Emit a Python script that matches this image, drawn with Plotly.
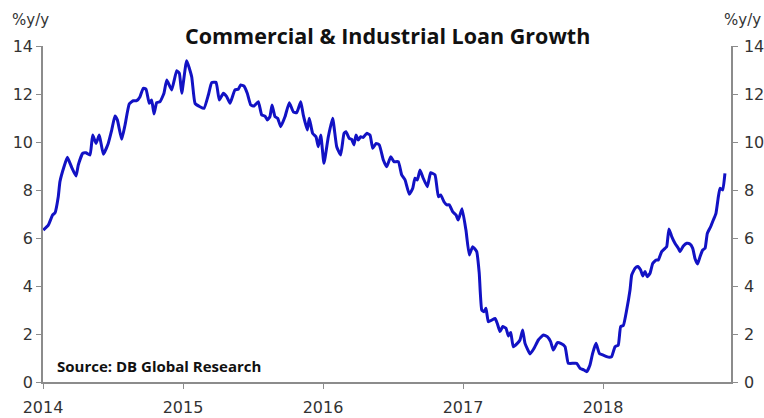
import plotly.graph_objects as go

# Weekly C&I loan growth, % y/y, x as decimal years
years = [
    2014.002, 2014.038, 2014.069, 2014.086, 2014.109, 2014.121, 2014.150, 2014.174, 2014.205, 2014.236,
    2014.252, 2014.284, 2014.307, 2014.336, 2014.355, 2014.379, 2014.402, 2014.431, 2014.466, 2014.491,
    2014.514, 2014.531, 2014.562, 2014.586, 2014.616, 2014.645, 2014.669, 2014.693, 2014.716, 2014.736,
    2014.759, 2014.776, 2014.793, 2014.812, 2014.836, 2014.864, 2014.884, 2014.919, 2014.955, 2014.974,
    2014.991, 2015.026, 2015.062, 2015.086, 2015.121, 2015.150, 2015.181, 2015.205, 2015.236, 2015.259,
    2015.288, 2015.312, 2015.336, 2015.371, 2015.395, 2015.412, 2015.436, 2015.459, 2015.484, 2015.507,
    2015.538, 2015.562, 2015.586, 2015.602, 2015.621, 2015.636, 2015.657, 2015.676, 2015.698, 2015.729,
    2015.759, 2015.788, 2015.812, 2015.841, 2015.859, 2015.888, 2015.902, 2015.926, 2015.950, 2015.966,
    2015.984, 2016.007, 2016.038, 2016.069, 2016.098, 2016.126, 2016.150, 2016.164, 2016.188, 2016.205,
    2016.221, 2016.236, 2016.252, 2016.269, 2016.288, 2016.312, 2016.336, 2016.355, 2016.379, 2016.402,
    2016.431, 2016.455, 2016.484, 2016.507, 2016.538, 2016.562, 2016.586, 2016.616, 2016.641, 2016.657,
    2016.674, 2016.693, 2016.716, 2016.745, 2016.769, 2016.800, 2016.824, 2016.841, 2016.864, 2016.884,
    2016.902, 2016.926, 2016.950, 2016.966, 2016.993, 2017.021, 2017.045, 2017.069, 2017.098, 2017.116,
    2017.134, 2017.150, 2017.164, 2017.181, 2017.205, 2017.229, 2017.245, 2017.264, 2017.284, 2017.307,
    2017.324, 2017.341, 2017.359, 2017.388, 2017.407, 2017.426, 2017.443, 2017.479, 2017.507, 2017.538,
    2017.574, 2017.602, 2017.626, 2017.645, 2017.674, 2017.698, 2017.729, 2017.752, 2017.788, 2017.812,
    2017.836, 2017.864, 2017.884, 2017.907, 2017.926, 2017.950, 2017.974, 2017.998, 2018.026, 2018.045,
    2018.062, 2018.086, 2018.109, 2018.126, 2018.145, 2018.169, 2018.193, 2018.205, 2018.229, 2018.248,
    2018.269, 2018.284, 2018.300, 2018.316, 2018.336, 2018.355, 2018.379, 2018.395, 2018.419, 2018.443,
    2018.455, 2018.471, 2018.491, 2018.514, 2018.538, 2018.550, 2018.574, 2018.598, 2018.621, 2018.641,
    2018.657, 2018.676, 2018.693, 2018.712, 2018.729, 2018.745, 2018.769, 2018.788, 2018.807, 2018.824,
    2018.836, 2018.855, 2018.871,
]

growth = [
    6.33, 6.54, 6.96, 7.05, 7.72, 8.35, 8.97, 9.36, 8.94, 8.58,
    9.04, 9.53, 9.55, 9.46, 10.29, 9.94, 10.29, 9.49, 9.94, 10.50,
    11.08, 10.92, 10.11, 10.71, 11.58, 11.72, 11.72, 11.89, 12.24, 12.20,
    11.61, 11.75, 11.17, 11.64, 11.68, 12.03, 12.58, 12.17, 12.97, 12.86,
    12.03, 13.39, 12.72, 11.61, 11.47, 11.40, 11.96, 12.47, 12.49, 11.75,
    12.03, 11.89, 11.61, 12.17, 12.20, 12.38, 12.33, 12.03, 11.54, 11.50,
    11.68, 11.13, 11.08, 10.92, 11.06, 11.54, 11.06, 10.99, 10.64, 11.06,
    11.64, 11.26, 11.22, 11.68, 11.13, 10.50, 10.99, 10.36, 10.22, 9.80,
    10.29, 9.11, 10.22, 10.99, 9.80, 9.46, 10.36, 10.43, 10.15, 10.11,
    9.88, 10.29, 10.08, 10.22, 10.19, 10.36, 10.29, 9.74, 9.94, 9.88,
    9.25, 8.97, 9.39, 9.18, 9.18, 8.63, 8.42, 7.82, 8.07, 8.49,
    8.42, 8.83, 8.49, 8.14, 8.72, 8.63, 7.72, 7.79, 7.51, 7.38,
    7.38, 7.10, 6.96, 6.75, 7.22, 6.33, 5.29, 5.64, 5.43, 4.53,
    3.00, 2.93, 3.07, 2.51, 2.58, 2.65, 2.44, 2.10, 2.31, 2.24,
    1.92, 2.06, 1.47, 1.61, 1.75, 2.17, 1.61, 1.17, 1.40, 1.75,
    1.96, 1.89, 1.68, 1.33, 1.64, 1.61, 1.47, 0.78, 0.78, 0.78,
    0.57, 0.50, 0.43, 0.71, 1.19, 1.61, 1.19, 1.13, 1.06, 1.03,
    1.06, 1.47, 1.54, 2.31, 2.35, 3.00, 3.83, 4.46, 4.74, 4.81,
    4.67, 4.42, 4.60, 4.39, 4.53, 4.94, 5.08, 5.08, 5.43, 5.57,
    5.64, 6.38, 6.06, 5.78, 5.57, 5.43, 5.67, 5.78, 5.75, 5.57,
    5.15, 4.92, 5.22, 5.50, 5.57, 6.19, 6.47, 6.75, 7.03, 7.72,
    8.07, 8.00, 8.69,
]

year_ticks = [2014, 2015, 2016, 2017, 2018]
year_labels = ["2014", "2015", "2016", "2017", "2018"]
y_ticks = [0, 2, 4, 6, 8, 10, 12, 14]

AXIS_GREY = "#8c8c8c"
TEXT_GREY = "#333333"
LINE_BLUE = "#1212c4"
TICK_FONT = dict(family="DejaVu Sans", size=16, color=TEXT_GREY)

fig = go.Figure()
fig.add_trace(go.Scatter(
    x=years, y=growth, mode="lines",
    line=dict(color=LINE_BLUE, width=3, shape="spline", smoothing=0.4),
    showlegend=False, hoverinfo="x+y",
))
# invisible copy so the right-hand value axis is drawn
fig.add_trace(go.Scatter(
    x=years, y=growth, mode="lines", yaxis="y2",
    line=dict(color="rgba(0,0,0,0)", width=0),
    showlegend=False, hoverinfo="skip",
))

axis_common = dict(
    showline=True, linecolor=AXIS_GREY, linewidth=1.5,
    ticks="outside", ticklen=5, tickwidth=1, tickcolor=AXIS_GREY,
    showgrid=False, zeroline=False, tickfont=TICK_FONT, automargin=False,
)

fig.update_layout(
    width=764, height=418,
    margin=dict(l=43, r=33, t=46, b=36),
    paper_bgcolor="white", plot_bgcolor="white",
    xaxis=dict(
        range=[2014, 2014 + 688 / 140],
        tickvals=year_ticks, ticktext=year_labels,
        ticklabelstandoff=5,
        **axis_common,
    ),
    yaxis=dict(range=[0, 14], tickvals=y_ticks, **axis_common),
    yaxis2=dict(range=[0, 14], tickvals=y_ticks, overlaying="y", side="right",
                ticklabelstandoff=3, **axis_common),
    annotations=[
        dict(text="<b>Commercial & Industrial Loan Growth</b>",
             xref="paper", yref="paper", x=0.5, y=1 + 10.5 / 336,
             xanchor="center", yanchor="middle", showarrow=False,
             font=dict(family="Open Sans", size=21.5, color="#111111")),
        dict(text="%y/y", xref="paper", yref="paper",
             x=-33 / 688, y=1 + 26 / 336, xanchor="left", yanchor="middle",
             showarrow=False, font=dict(family="DejaVu Sans", size=15, color=TEXT_GREY)),
        dict(text="%y/y", xref="paper", yref="paper",
             x=1 + 32 / 688, y=1 + 26 / 336, xanchor="right", yanchor="middle",
             showarrow=False, font=dict(family="DejaVu Sans", size=15, color=TEXT_GREY)),
        dict(text="<b>Source: DB Global Research</b>",
             xref="paper", yref="paper", x=12 / 688, y=16 / 336,
             xanchor="left", yanchor="middle", showarrow=False,
             font=dict(family="Open Sans", size=15, color="#111111")),
    ],
)

fig.write_html("out.html")
